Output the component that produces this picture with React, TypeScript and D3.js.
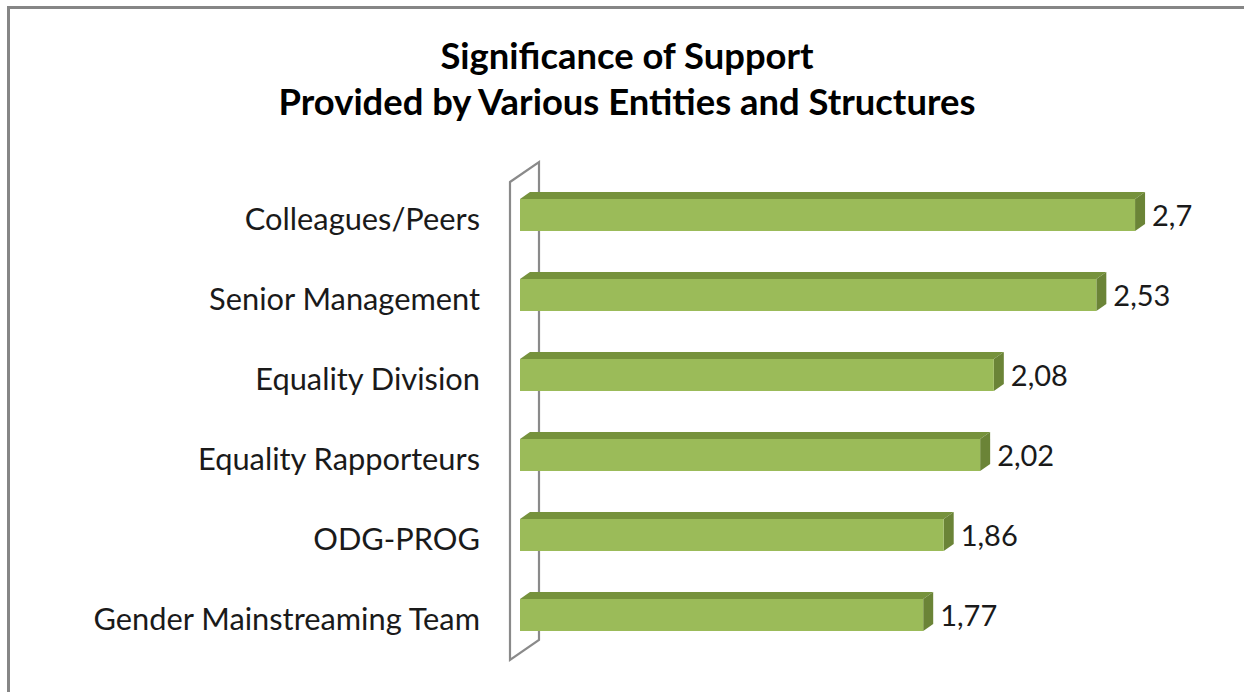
import React from "react";
import * as d3 from "d3";

const categories = [
  "Colleagues/Peers",
  "Senior Management",
  "Equality Division",
  "Equality Rapporteurs",
  "ODG-PROG",
  "Gender Mainstreaming Team",
];
const values = [2.7, 2.53, 2.08, 2.02, 1.86, 1.77];
const valueLabels = ["2,7", "2,53", "2,08", "2,02", "1,86", "1,77"];
const titleLines = ["Significance of Support", "Provided by Various Entities and Structures"];

const W = 1244;
const H = 692;
const FONT = "Lato, 'Open Sans', sans-serif";

export default function App() {
  const x = d3.scaleLinear().domain([0, 3]).range([520, 520 + 227.8 * 3]);
  const y = d3.scaleBand<string>().domain(categories).range([175, 655]);
  const barH = 32;
  const dx = 10;
  const dy = -7;
  const x0 = x(0);

  return (
    <svg width={W} height={H} style={{ position: "absolute", left: 0, top: 0 }}>
      <rect x={0} y={0} width={W} height={H} fill="#fff" />
      <path d={`M8.5,${H} V7.5 H${W}`} fill="none" stroke="#868686" strokeWidth={3} />
      {titleLines.map((t, i) => (
        <text
          key={i}
          x={627}
          y={69 + i * 46}
          textAnchor="middle"
          fontFamily={FONT}
          fontWeight="bold"
          fontSize={36.4}
          fill="#000"
        >
          {t}
        </text>
      ))}
      {/* wall */}
      <polygon
        points={`${x0 - 10},182 ${x0 + 19},162 ${x0 + 19},640 ${x0 - 10},660`}
        fill="none"
        stroke="#8a8a8a"
        strokeWidth={2.2}
      />
      {categories.map((c, i) => {
        const cy = (y(c) as number) + y.bandwidth() / 2;
        const top = cy - barH / 2;
        const bot = cy + barH / 2;
        const xe = x(values[i]);
        return (
          <g key={c}>
            <polygon
              points={`${x0},${top} ${x0 + dx},${top + dy} ${xe + dx},${top + dy} ${xe},${top}`}
              fill="#76923c"
            />
            <polygon
              points={`${xe},${top} ${xe + dx},${top + dy} ${xe + dx},${bot + dy} ${xe},${bot}`}
              fill="#6b8437"
            />
            <rect x={x0} y={top} width={xe - x0} height={barH} fill="#9bbb59" />
            <text
              x={480}
              y={cy + 15}
              textAnchor="end"
              fontFamily={FONT}
              fontSize={30.8}
              fill="#1a1a1a"
            >
              {c}
            </text>
            <text
              x={xe + dx + 7}
              y={cy + 11}
              fontFamily={FONT}
              fontSize={29}
              fill="#1a1a1a"
            >
              {valueLabels[i]}
            </text>
          </g>
        );
      })}
    </svg>
  );
}
